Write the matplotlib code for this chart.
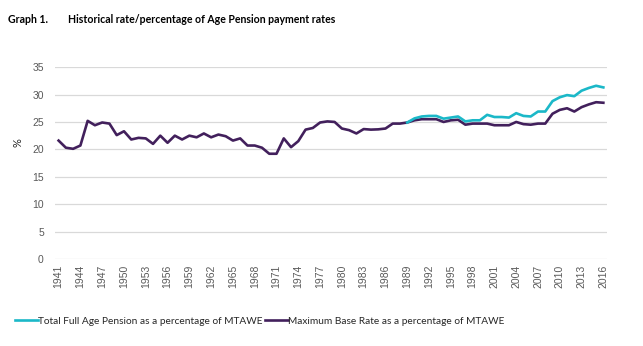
import matplotlib
matplotlib.use("Agg")
from matplotlib import pyplot as plt

# années et séries
years = list(range(1941, 2017))

max_base_rate = [
    21.6, 20.3, 20.1, 20.7, 25.2, 24.4, 24.9, 24.7, 22.6, 23.3,
    21.8, 22.1, 22.0, 21.0, 22.5, 21.2, 22.5, 21.8, 22.5, 22.2,
    22.9, 22.2, 22.7, 22.4, 21.6, 22.0, 20.7, 20.7, 20.3, 19.2,
    19.2, 22.0, 20.4, 21.5, 23.6, 23.9, 24.9, 25.1, 25.0, 23.8,
    23.5, 22.9, 23.7, 23.6, 23.65, 23.8, 24.7, 24.7, 24.9, 25.3,
    25.5, 25.5, 25.5, 25.0, 25.3, 25.4, 24.5, 24.7, 24.7, 24.7,
    24.4, 24.4, 24.4, 25.0, 24.6, 24.5, 24.7, 24.7, 26.5, 27.2,
    27.5, 26.9, 27.7, 28.2, 28.6, 28.5,
]

full_years = list(range(1989, 2017))
full_pension = [
    24.9, 25.65, 26.0, 26.1, 26.1, 25.6, 25.8, 26.0, 25.1, 25.3,
    25.3, 26.3, 25.9, 25.9, 25.8, 26.6, 26.1, 26.0, 26.9, 26.9,
    28.8, 29.5, 29.9, 29.7, 30.7, 31.2, 31.6, 31.3,
]

cyan = "#1BB8C8"
purple = "#42205C"
grey_txt = "#595959"

fig = plt.figure(figsize=(6.43, 3.46), dpi=100)
ax = fig.add_axes([0.0855, 0.2514, 0.8585, 0.5546])

ax.plot(full_years, full_pension, color=cyan, linewidth=1.9,
        label="Total Full Age Pension as a percentage of MTAWE", zorder=3)
ax.plot(years, max_base_rate, color=purple, linewidth=1.9,
        label="Maximum Base Rate as a percentage of MTAWE", zorder=2)

ax.set_xlim(1940.5, 2016.5)
ax.set_ylim(0, 35)
ax.set_yticks(range(0, 36, 5))
ax.set_xticks(years[::3])
ax.set_xticklabels([str(y) for y in years[::3]], rotation=90)
ax.tick_params(axis="both", length=0, labelsize=7.5, colors=grey_txt)
for lab in ax.get_xticklabels() + ax.get_yticklabels():
    lab.set_family("Liberation Sans")
ax.tick_params(axis="y", pad=8)
ax.tick_params(axis="x", pad=4)
ax.grid(axis="y", color="#D9D9D9", linewidth=0.9)
ax.set_axisbelow(True)
for s in ax.spines.values():
    s.set_visible(False)

# "%" placé à la main comme dans l'original
fig.text(18 / 643, 1 - 143 / 346, "%", fontsize=8, color="#262626",
         rotation=90, ha="center", va="center", family="Lato")

fig.text(0.012, 0.945, "Graph 1.", fontsize=7.6, fontweight="bold",
         family="Lato", color="black", ha="left", va="center")
fig.text(0.106, 0.945, "Historical rate/percentage of Age Pension payment rates",
         fontsize=7.6, fontweight="bold", family="Lato", color="black",
         ha="left", va="center")

fig.legend(loc="center", bbox_to_anchor=(0.404, 0.071), ncol=2, frameon=False,
           prop={"family": "Lato", "size": 7.3}, handlelength=2.3,
           handletextpad=0.0, columnspacing=0.25, labelcolor="#262626")

fig.savefig("out.png", dpi=100)
